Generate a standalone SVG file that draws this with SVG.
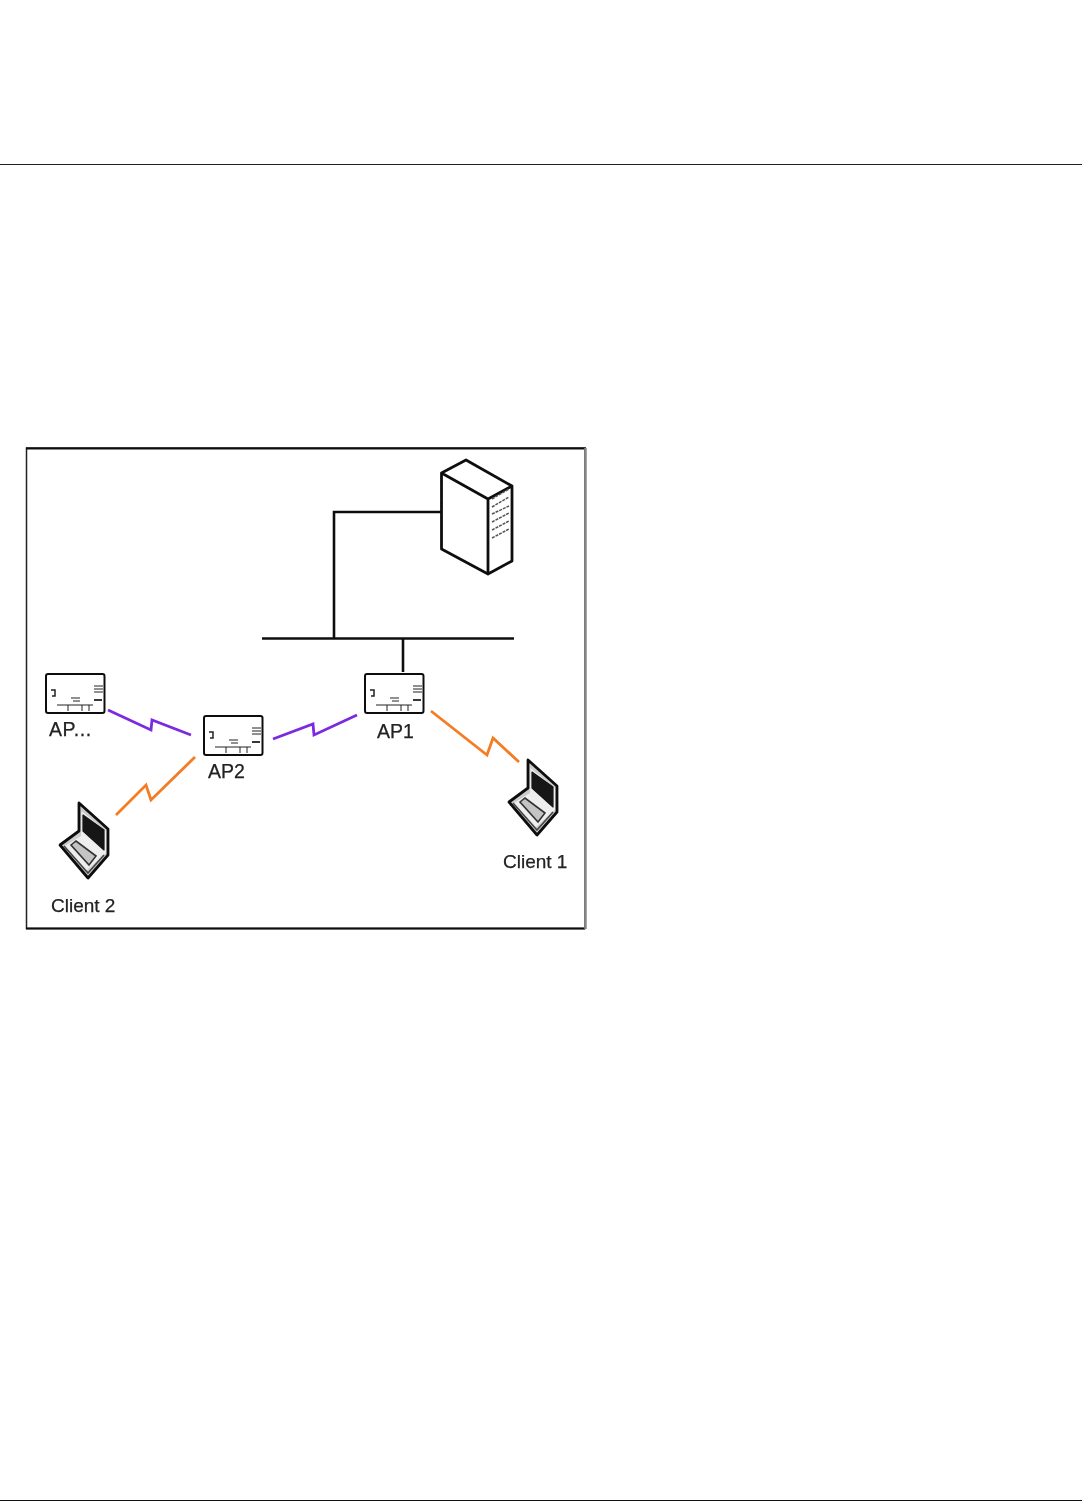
<svg xmlns="http://www.w3.org/2000/svg" width="1090" height="1501" viewBox="0 0 1090 1501">
<style>
.bk{fill:#fff;stroke:#111;stroke-width:2.800;stroke-linejoin:round;stroke-linecap:round}
.wire{fill:none;stroke:#111;stroke-width:2.600}
.pu{fill:none;stroke:#7b2be0;stroke-width:2.800}
.or{fill:none;stroke:#f47b20;stroke-width:2.800}
.fine{fill:none;stroke:#222;stroke-width:1}
.lbl{font-family:"Liberation Sans",Arial,sans-serif;font-size:19.500px;fill:#222;stroke:#222;stroke-width:0.250}
</style>
<defs>
<filter id="soft" x="-5%" y="-5%" width="110%" height="110%"><feGaussianBlur stdDeviation="0.500"/></filter>
<g id="ap">
<rect x="0" y="0" width="58.500" height="39" rx="2" fill="#fff" stroke="#111" stroke-width="2"/>
<path class="fine" style="stroke-width:1.500" d="M5 16H9V22H6"/>
<path class="fine" d="M48 12H57M48 15H57M48 18H57M25 24H34M27 27H34M11 31H47M22 31V37M36 31V37M43 31V37"/>
<path d="M48 26H56" stroke="#222" stroke-width="1.800" fill="none"/>
</g>
<g id="laptop">
<path d="M0 0L29 26V52L9 75L-19 42L0 28Z" fill="#ccc" stroke="#111" stroke-width="2.800" stroke-linejoin="round"/>
<path d="M2.500 8L27 28V50L7 68L-14 43L2 33Z" fill="#eee"/>
<path d="M4 12L25 27V47L4 28Z" fill="#151515" stroke="#151515" stroke-width="1.200" stroke-linejoin="round"/>
<path d="M-8 42L-3 38L17 53L10 62Z" fill="#c4c4c4" stroke="#333" stroke-width="1.600"/>
<path d="M-15 43L9 70L25 52" fill="none" stroke="#444" stroke-width="1.600"/>
</g>
</defs>
<rect width="1090" height="1501" fill="#fff"/>
<path d="M0 164.500H1082" stroke="#222" stroke-width="1" fill="none"/>
<path d="M0 1500.500H1082" stroke="#111" stroke-width="1" fill="none"/>
<g filter="url(#soft)">
<g id="frame"><path d="M26.500 928.500V448H585V928.500Z" fill="#fff" stroke="#222" stroke-width="1.500"/><path d="M26 448.500H586M26 928.500H585" stroke="#111" stroke-width="2"/><path d="M585.500 448V929" stroke="#888" stroke-width="2.500"/></g>
<g id="connectors">
<path class="wire" d="M441 512H334V638"/>
<path class="wire" d="M262 638.500H514"/>
<path class="wire" d="M403 638V672"/>
<path class="pu" d="M108 710L151 730L152 720L191 735"/>
<path class="pu" d="M273 739L313 724L314 735L357 715"/>
<path class="or" d="M116 815L146 785L151 800L195 757"/>
<path class="or" d="M431 711L487 755L493 738L519 762"/>
</g>
<g id="server">
<path class="bk" d="M441.500 473L466 460L512 486L488 499ZM441.500 473V549L488 574V499ZM488 499L512 486V561L488 574Z"/>
<path d="M492 499L509 489M492 507L509 497M492 514L509 506M492 522L509 513M492 530L509 521M492 538L509 529" fill="none" stroke="#555" stroke-width="1.500" stroke-dasharray="3 1"/>
</g>
<g id="ap-unnamed"><use href="#ap" x="46" y="674"/><text class="lbl" x="49" y="736" style="letter-spacing:0.600px">AP...</text></g>
<g id="ap2"><use href="#ap" x="204" y="716"/><text class="lbl" x="208" y="778">AP2</text></g>
<g id="ap1"><use href="#ap" x="365" y="674"/><text class="lbl" x="377" y="738">AP1</text></g>
<g id="client1"><use href="#laptop" x="528" y="760"/><text class="lbl" x="503" y="868" style="font-size:19px">Client 1</text></g>
<g id="client2"><use href="#laptop" x="79" y="803"/><text class="lbl" x="51" y="912" style="font-size:19px">Client 2</text></g>
</g>
</svg>
